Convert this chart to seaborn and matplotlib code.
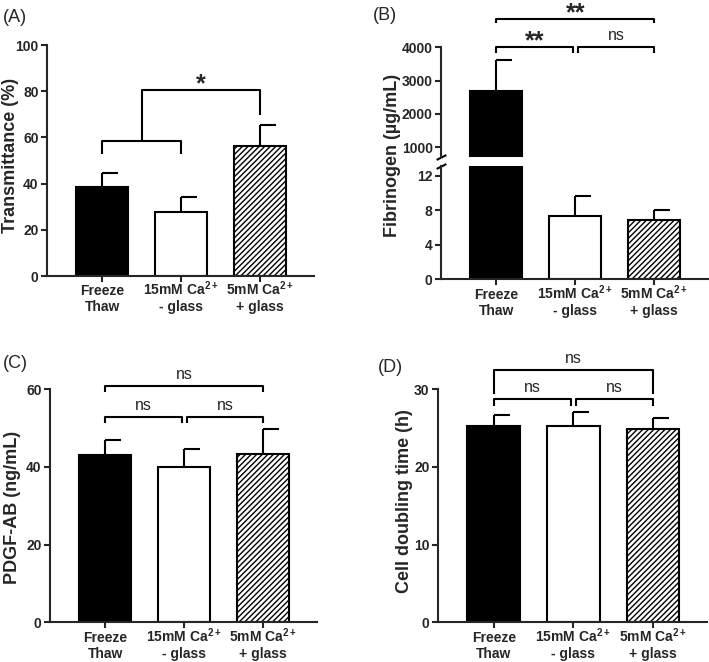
"""Four-panel bar chart: transmittance, fibrinogen, PDGF-AB and doubling time per thaw method."""
import matplotlib.pyplot as plt
import seaborn as sns

GROUPS = ["Freeze\nThaw", "15mM Ca$^{2+}$\n- glass", "5mM Ca$^{2+}$\n+ glass"]
FILLS = ["black", "white", "white"]
HATCHES = ["", "", "//////"]

TRANS_MEAN = [38.7, 27.6, 56.3]
TRANS_ERR = [5.7, 6.7, 9.1]

FIB_MEAN = [2700, 7.3, 6.9]
FIB_ERR = [920, 2.35, 1.1]

PDGF_MEAN = [43.0, 40.0, 43.3]
PDGF_ERR = [3.9, 4.5, 6.3]

DOUBLING_MEAN = [25.3, 25.3, 24.9]
DOUBLING_ERR = [1.3, 1.7, 1.4]

# significance brackets: (x_left, x_right, y_bar, y_left_end, y_right_end, label)
SIG_A = [(0, 1, 58.6, 52.8, 52.8, None), (0.5, 2, 80.5, 58.6, 69.7, "*")]
SIG_B = [(0, 2, 4853, 4723, 4723, "**"), (0, 0.97, 4000, 3824, 3824, "**"),
         (1.03, 2, 4000, 3824, 3824, "ns")]
SIG_C = [(0, 2, 60.75, 59.1, 59.1, "ns"), (0, 0.97, 52.7, 51.2, 51.2, "ns"),
         (1.03, 2, 52.7, 51.2, 51.2, "ns")]
SIG_D = [(0, 2, 32.5, 29.4, 29.4, "ns"), (0, 0.97, 28.7, 27.8, 27.8, "ns"),
         (1.03, 2, 28.7, 27.8, 27.8, "ns")]

W, H = 709, 662
LW = 1.5
CAP = 0.2
XLIM = (-0.7, 2.68)


def px_axes(fig, left, top, width, bottom):
    # pixel box (from top-left) -> figure fraction axes
    return fig.add_axes([left / W, 1 - bottom / H, width / W, (bottom - top) / H])


def draw_bars(ax, means, errs):
    sns.barplot(x=GROUPS, y=means, hue=GROUPS, palette=FILLS, legend=False,
                saturation=1, width=0.66, edgecolor="black", linewidth=LW, ax=ax)
    for patch, hatch in zip(ax.patches, HATCHES):
        patch.set_hatch(hatch)
    xs = [p.get_x() + p.get_width() / 2 for p in ax.patches]
    tops = [m + e for m, e in zip(means, errs)]
    ax.vlines(xs, means, tops, color="black", lw=LW, zorder=3)
    ax.hlines(tops, xs, [x + CAP for x in xs], color="black", lw=LW, zorder=3)
    ax.set_xlim(*XLIM)
    ax.set_xlabel("")


def style_axes(ax, bottom=True):
    sns.despine(ax=ax, top=True, right=True, bottom=not bottom)
    for side in ["left", "bottom"]:
        ax.spines[side].set_linewidth(LW)
    ax.tick_params(direction="out", length=4, width=LW, labelsize=10, pad=2)
    # baseline alignment keys on the last line, so the mathtext lines stay level
    ax.tick_params(axis="x", pad=21.5)
    for lab in ax.get_xticklabels():
        lab.set_verticalalignment("baseline")
    if not bottom:
        ax.tick_params(axis="x", bottom=False, labelbottom=False)


def draw_sig(ax, brackets):
    for x1, x2, y, y1, y2, label in brackets:
        ax.plot([x1, x1, x2, x2], [y1, y, y, y2], color="black", lw=LW,
                clip_on=False, solid_capstyle="butt")
        if label is None:
            continue
        star = label.startswith("*")
        ax.annotate(label, xy=((x1 + x2) / 2, y), xytext=(0, -1 if star else 5),
                    textcoords="offset points", ha="center", va="baseline",
                    fontsize=18 if star else 11.5,
                    fontweight="bold" if star else "normal", annotation_clip=False)


def main():
    sns.set_theme(style="ticks")
    plt.rcParams["font.family"] = ["Liberation Sans", "DejaVu Sans"]
    plt.rcParams["font.weight"] = "bold"
    plt.rcParams["mathtext.default"] = "regular"
    plt.rcParams["hatch.linewidth"] = 1.0

    fig = plt.figure(figsize=(W / 100, H / 100), dpi=100)

    # (A) transmittance
    ax_a = px_axes(fig, 47, 45, 267, 276)
    draw_bars(ax_a, TRANS_MEAN, TRANS_ERR)
    ax_a.set_ylim(0, 100)
    ax_a.set_yticks([0, 20, 40, 60, 80, 100])
    style_axes(ax_a)
    ax_a.set_ylabel("Transmittance (%)", fontsize=13, fontweight="bold", va="center")
    ax_a.yaxis.set_label_coords(-0.135, 0.524)
    draw_sig(ax_a, SIG_A)

    # (B) fibrinogen, broken axis
    ax_bt = px_axes(fig, 441, 47.3, 267, 157)
    ax_bb = px_axes(fig, 441, 166, 267, 279.3)
    for ax in (ax_bt, ax_bb):
        draw_bars(ax, FIB_MEAN, FIB_ERR)
    ax_bt.set_ylim(700, 4000)
    ax_bt.set_yticks([1000, 2000, 3000, 4000])
    ax_bb.set_ylim(0, 13.1)
    ax_bb.set_yticks([0, 4, 8, 12])
    style_axes(ax_bt, bottom=False)
    style_axes(ax_bb)
    ax_bb.spines["top"].set_visible(False)
    brk = dict(marker=[(-1, -0.5), (1, 0.5)], markersize=7, linestyle="none",
               color="black", mec="black", mew=LW, clip_on=False)
    ax_bt.plot([0], [0], transform=ax_bt.transAxes, **brk)
    ax_bb.plot([0], [1], transform=ax_bb.transAxes, **brk)
    ax_bb.set_ylabel("Fibrinogen (µg/mL)", fontsize=13, fontweight="bold", va="center")
    ax_bb.yaxis.set_label_coords(-0.18, 1.097)
    draw_sig(ax_bt, SIG_B)

    # (C) PDGF-AB
    ax_c = px_axes(fig, 50, 389, 267, 622.3)
    draw_bars(ax_c, PDGF_MEAN, PDGF_ERR)
    ax_c.set_ylim(0, 60)
    ax_c.set_yticks([0, 20, 40, 60])
    style_axes(ax_c)
    ax_c.set_ylabel("PDGF-AB (ng/mL)", fontsize=13, fontweight="bold", va="center")
    ax_c.yaxis.set_label_coords(-0.142, 0.494)
    draw_sig(ax_c, SIG_C)

    # (D) cell doubling time
    ax_d = px_axes(fig, 438, 389, 269, 622.3)
    draw_bars(ax_d, DOUBLING_MEAN, DOUBLING_ERR)
    ax_d.set_ylim(0, 30)
    ax_d.set_yticks([0, 10, 20, 30])
    style_axes(ax_d)
    ax_d.set_ylabel("Cell doubling time (h)", fontsize=13, fontweight="bold", va="center")
    ax_d.yaxis.set_label_coords(-0.124, 0.52)
    draw_sig(ax_d, SIG_D)

    for label, x, y in [("(A)", 3, 18), ("(B)", 373, 15), ("(C)", 3, 363), ("(D)", 378, 367)]:
        fig.text(x / W, 1 - y / H, label, fontsize=13, fontweight="normal",
                 ha="left", va="center")

    fig.savefig("out.png", dpi=100)


if __name__ == "__main__":
    main()
